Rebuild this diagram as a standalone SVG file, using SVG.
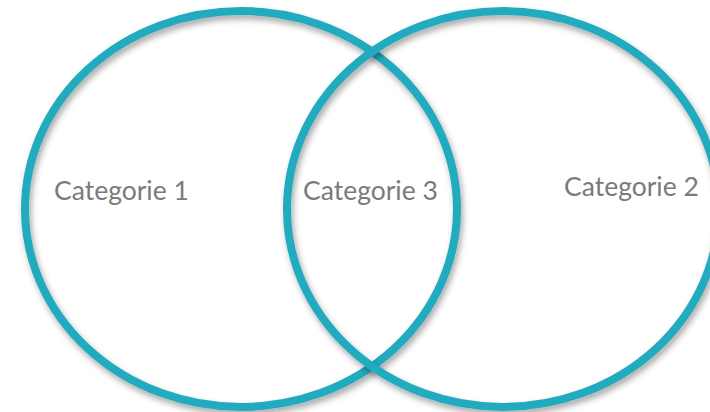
<svg xmlns="http://www.w3.org/2000/svg" width="710" height="412" viewBox="0 0 710 412">
  <defs>
    <filter id="shadow" x="-10%" y="-10%" width="120%" height="120%">
      <feDropShadow dx="2" dy="4" stdDeviation="3" flood-color="#000" flood-opacity="0.35"/>
    </filter>
  </defs>
  <style>
    .ring { fill: none; stroke: #22aabf; stroke-width: 8; filter: url(#shadow); }
    .label { font-family: Lato, "Liberation Sans", sans-serif; font-size: 26.5px; fill: #7a7a7a; }
  </style>
  <rect width="710" height="412" fill="#ffffff"/>
  <g id="category-1">
    <ellipse class="ring" cx="241" cy="209" rx="216" ry="198"/>
  </g>
  <g id="category-2">
    <ellipse class="ring" cx="503" cy="209" rx="216" ry="198"/>
  </g>
  <g id="labels">
    <text class="label" x="54" y="200">Categorie 1</text>
    <text class="label" x="303" y="200">Categorie 3</text>
    <text class="label" x="564" y="196">Categorie 2</text>
  </g>
</svg>
